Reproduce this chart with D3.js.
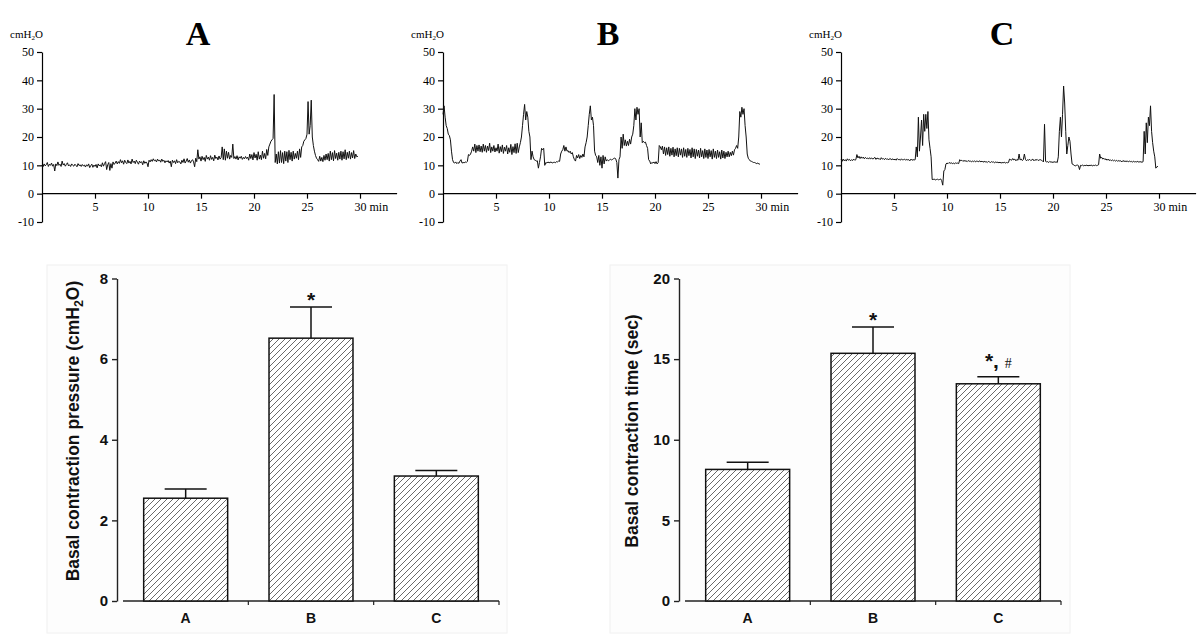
<!DOCTYPE html>
<html>
<head>
<meta charset="utf-8">
<script src="https://cdn.jsdelivr.net/npm/d3@7"></script>
<style>
  html, body { margin: 0; padding: 0; background: #fff; }
  svg { display: block; }
</style>
</head>
<body>
<div id="chart"></div>
<script>
// ---------------- DATA ----------------
// Pressure traces (cmH2O), sampled every 0.1 min from 0 to 29.9 min
const sampleStepMin = 0.1;
const traceA = [
  10,9.5,10.5,9.8,10.2,11,9.6,10.4,10,10.8,
  9.7,10.3,8,10.5,9.9,11.2,10,10.4,9.6,11.5,
  10.1,10.6,9.7,10.3,10.9,9.8,10.2,9.6,10.5,10,
  9.7,10.4,10,9.5,10.6,9.9,10.2,9.6,10.3,9.8,
  10.1,9.4,10.2,9.7,10.5,9.2,9.9,10.4,9.3,10.1,
  9.6,10.3,9.1,10.5,9.8,10.2,9.5,10.9,9.7,10.6,
  11.3,8.5,10.2,11,8.2,10.6,9,11.2,10.3,10.8,
  11.5,10.5,11.3,10.7,12,10.9,11.6,10.4,11.8,11,
  10.6,11.9,10.8,11.4,10.5,12.2,11,11.5,10.6,11.8,
  11.1,10.4,11.5,10.9,11.3,10.2,11.6,10.7,11.2,10.9,
  9.5,11.8,11.2,12,11.4,12.3,11.6,11.9,11.2,12.2,
  11.5,11.9,11.1,12.2,11.4,11.8,10.9,11.6,11.2,11.7,
  10.8,11.5,9.5,11.8,11,11.6,10.6,12,10.9,11.4,
  11.2,10.5,11.8,11,12.3,10.8,11.5,12.4,11.1,11.9,
  10.8,11.6,12,11.2,9.5,12.5,11.3,15.5,12.2,13,
  11.5,13.2,12,12.8,11.4,13.5,12.2,12.9,11.8,13.4,
  12.1,12.8,11.6,13.6,12.4,12.9,11.9,13.3,12.2,12.7,
  16.5,12,15.8,11.8,15,12.5,14.6,12.2,13.5,12.8,
  17.5,12.4,13.1,12.2,13.4,11.9,13,12.5,13.2,12.1,
  12.8,12.3,13.1,12.4,12.9,11.8,14,12.4,13.8,11.9,
  14.5,12.6,13.9,11.8,14.8,12.2,13.6,12,15,12.5,
  14.2,12.3,15.6,13.5,16.5,17.5,18.5,19,19.5,35,
  11,14,10.5,14.8,10.8,15.2,11,14.5,10.6,15,
  11.5,14.8,11,15.3,12,14.6,11.5,15,12.2,14.2,
  12.5,15,12,15.8,12.8,16.5,17,18.5,19,19.5,
  21,32.5,21,24,33,20,17,15,13.5,12.5,
  12,11.4,13.2,11.5,12.8,11.3,13.5,11.8,14,12,
  14.2,11.5,15,12,14.5,11.6,15.2,12.4,14.3,11.8,
  14.6,12.2,15,11.8,14.8,12.3,15.5,12,14.6,12.5,
  15,12.2,14.5,12.6,15.2,12.4,14,13,13.2
];
const traceB = [
  28,31,27,24,23,21,20.5,19,15,12,
  11,10.8,11.2,10.6,11,10.7,11.5,12,10.8,11,
  10.9,11.2,11,11.4,13.8,13.5,14,15,16.5,15,
  17.5,14.5,17,15,17.2,14.8,16.8,14.6,17.5,15,
  17,14.6,16.8,15.2,17.8,14.5,16.5,15,17,14.7,
  16.2,15,17.5,14.3,16.6,14.8,17.2,14.2,16.4,15,
  17,14,16.2,14.6,17.4,13.8,16.6,14.5,17.6,14.2,
  17.8,14.5,16.5,18,20,24,28,31.5,26,29,
  27,22,20,12,15,13,12,11.8,11.5,11.6,
  9,11,13,16,15.5,16,10,11,10.8,11.2,
  10.9,11,11.2,10.8,11,11.1,10.9,11.3,11.2,11.5,
  11.4,14,15,15.5,17,15,16.5,15,15.2,14.5,
  15,14,14.5,13,12,11.5,13.5,12.6,13.8,12.4,
  13.5,12.8,14,13,16.5,18,20,24,28,31,
  26,27,24,15,13.5,13,11,13.5,10,13,
  9,13.5,10.5,13,11.5,12,11.6,11.8,12.2,11.9,
  12.1,12.4,12.6,12.2,11,5.5,12,13,20,16,
  21,17,19,16.8,18.5,17,19.2,17.5,20,21,
  24,30,26,30.5,28,30,20,25,18,18.5,
  18,18.2,17,16,12,11.5,10.5,11,10.8,11.2,
  10.6,11.3,10.5,11,17,16.5,15.5,16.8,14,16.5,
  13.5,16.2,13.8,16.5,13.2,16,13.6,16.4,13,15.8,
  13.4,16.2,13,16,13.6,15.8,12.8,16.2,13.2,15.6,
  12.8,16,13.4,15.6,12.6,16.2,13,15.8,12.4,15.6,
  13.2,15.4,12.6,16,13,15.2,12.4,15.8,12.8,15.4,
  12.4,15.6,13,15.2,12.2,15.8,12.8,15,12.4,15.4,
  12.8,14.8,12.2,15.4,12.6,15,12.4,14.6,13,15,
  13,14.6,13.4,15,13.6,15.5,16,17,16,20,
  29,27,30.5,28,30,24,20,14,12.5,12,
  11.5,11.4,11.2,11,11,10.8,10.6,10.8,10.5,10.4
];
const traceC = [
  12,11.4,12.2,11.6,12,11.5,12.3,11.8,12.1,11.6,
  12,11.7,12.2,11.8,12,13.8,12.6,13.2,12.4,13,
  12.5,12.9,12.3,12.8,12.4,12.6,12.2,12.7,12.3,12.6,
  12.2,12.5,12.8,12.1,12.6,12.3,12.4,12,12.7,12.2,
  12.4,12,12.5,12.1,12.3,11.9,12.4,12.2,12,12.3,
  11.9,12.2,11.8,12.4,12,12.1,11.8,12.3,11.9,12,
  12.2,11.8,12.1,11.9,12,11.6,12.2,11.8,12,11.9,
  12,16.5,13,27,15,20,26,17,28,22,
  28,23,29,19,16,13,5,5,5.2,4.8,
  5,5.1,4.9,5,5.2,4.6,3,8,8.5,10.5,
  10.8,10.6,11,10.7,10.9,10.6,10.8,10.5,10.9,10.7,
  10.8,10.6,12,11.6,11.8,11.4,11.7,11.5,11.6,11.3,
  11.7,11.4,11.6,11.2,11.5,11.3,11.6,11.2,11.5,11.4,
  11.3,11.6,11.2,11.5,11.1,11.4,11.2,11.3,11,11.4,
  11.2,11,11.3,11.1,11.2,10.9,11.2,11,11.1,10.9,
  11.1,10.8,11,10.9,11.1,10.8,11,10.9,11,12.2,
  12,11.8,12.4,11.9,12.2,11.6,12.1,11.8,14,11.9,
  12.2,11.7,12,14,12.1,11.6,12,11.8,12.1,11.7,
  11.9,12.2,11.6,12,11.8,12.1,11.7,11.9,12,11.8,
  11.6,11.2,24.5,11.4,11.2,11.3,11,11.4,11.1,11.2,
  11,11.3,11.1,11.2,11,13,22,27,20,28,
  38,32,22,14,17,20,18.5,14,10.5,10.3,
  10,9.8,10,10.1,9.9,8.5,10,9.9,10.1,9.8,
  10,9.9,10.1,9.8,10,9.9,10.1,9.8,10,9.9,
  10.1,9.9,10,10.2,14,12.5,12.8,12.2,12.5,12,
  12.3,11.8,12.2,11.7,12,11.6,11.9,11.6,11.8,11.5,
  11.8,11.4,11.7,11.5,11.6,11.2,11.7,11.4,11.5,11.3,
  11.6,11.2,11.5,11.3,11.4,11.1,11.5,11.2,11.3,11.2,
  11.4,11.1,11.3,11.2,11.1,11.3,22,14,25,18,
  27,24,31,22,18,15,13,9,9.5,9.6
];
const traceTitles = ["A", "B", "C"];
const traceYTicks = [-10, 0, 10, 20, 30, 40, 50];
const traceXTicks = [5, 10, 15, 20, 25, 30];
const traceUnit = "min";

// Bar charts
const categories = ["A", "B", "C"];
const pressureMean = [2.55, 6.52, 3.10];
const pressureSE   = [0.23, 0.77, 0.14];
const pressureMarks = ["", "*", ""];
const pressureTicks = [0, 2, 4, 6, 8];

const timeMean = [8.16, 15.36, 13.47];
const timeSE   = [0.44, 1.64, 0.43];
const timeMarks = ["", "*", "*, #"];
const timeTicks = [0, 5, 10, 15, 20];

// ---------------- DRAW ----------------
const W = 1200, H = 634;
const svg = d3.select("#chart").append("svg")
  .attr("width", W).attr("height", H)
  .attr("viewBox", `0 0 ${W} ${H}`);

const defs = svg.append("defs");
const pat = defs.append("pattern")
  .attr("id", "hatch").attr("patternUnits", "userSpaceOnUse")
  .attr("width", 6).attr("height", 6);
pat.append("rect").attr("width", 6).attr("height", 6).attr("fill", "#fff");
pat.append("path").attr("d", "M-1,1 L1,-1 M0,6 L6,0 M5,7 L7,5")
  .attr("stroke", "#444").attr("stroke-width", 0.8);

const serif = "'Liberation Serif', 'Times New Roman', serif";
const sans = "'Liberation Sans', Arial, Helvetica, sans-serif";

// ---- Top traces ----
const traces = [traceA, traceB, traceC];
const traceAxisX = [42, 443, 841];
const titleDx = [156, 165, 161];

traces.forEach((vals, k) => {
  const x0 = traceAxisX[k];
  const x = d3.scaleLinear().domain([0, 30]).range([x0, x0 + 318]);
  const y = d3.scaleLinear().domain([-10, 50]).range([222, 52]);
  const g = svg.append("g");

  // y axis
  const ya = g.append("g").attr("transform", `translate(${x0},0)`)
    .call(d3.axisLeft(y).tickValues(traceYTicks).tickFormat(d => String(d))
      .tickSize(5).tickSizeOuter(0).tickPadding(3));
  ya.selectAll("path,line").attr("stroke", "#000").attr("stroke-width", 1.2);
  ya.selectAll("text").attr("font-family", serif).attr("font-size", 12).attr("fill", "#000");

  // x axis at y = 0
  const xa = g.append("g").attr("transform", `translate(0,${y(0)})`)
    .call(d3.axisBottom(x).tickValues(traceXTicks).tickFormat(d => String(d))
      .tickSize(5).tickSizeOuter(0).tickPadding(4));
  xa.select(".domain").remove();
  xa.selectAll("line").attr("stroke", "#000").attr("stroke-width", 1.2);
  xa.selectAll("text").attr("font-family", serif).attr("font-size", 12).attr("fill", "#000");
  xa.selectAll(".tick").filter(d => d === 30).select("text")
    .attr("text-anchor", "start").attr("dx", -6).text(d => d + " " + traceUnit);
  g.append("line")
    .attr("x1", x(0)).attr("x2", x(33.5)).attr("y1", y(0)).attr("y2", y(0))
    .attr("stroke", "#000").attr("stroke-width", 1.2);

  // trace
  const line = d3.line().x((d, i) => x(i * sampleStepMin)).y(d => y(d));
  g.append("path").datum(vals).attr("d", line)
    .attr("fill", "none").attr("stroke", "#111").attr("stroke-width", 1)
    .attr("stroke-linejoin", "round");

  // unit label
  const u = g.append("text").attr("x", x0 - 32).attr("y", 38)
    .attr("font-family", serif).attr("font-size", 11).attr("fill", "#000");
  u.append("tspan").text("cmH");
  u.append("tspan").attr("font-size", 7).attr("dy", 2).text("2");
  u.append("tspan").attr("dy", -2).text("O");

  // title
  g.append("text").attr("x", x0 + titleDx[k]).attr("y", 45)
    .attr("text-anchor", "middle").attr("font-family", serif)
    .attr("font-weight", "bold").attr("font-size", 34).attr("fill", "#000")
    .text(traceTitles[k]);
});

// ---- Bar charts ----
function barChart(opt) {
  const g = svg.append("g");
  g.append("rect").attr("x", opt.bg[0]).attr("y", 265)
    .attr("width", opt.bg[1] - opt.bg[0]).attr("height", 368)
    .attr("fill", "#fdfdfd").attr("stroke", "#f0f0f0");

  const y = d3.scaleLinear().domain(opt.domain).range([601, 278.5]);
  const x = d3.scaleBand().domain(categories)
    .range([opt.axisX + 6, opt.axisX + 382]).paddingInner(0.33).paddingOuter(0.165);

  // y axis
  const ya = g.append("g").attr("transform", `translate(${opt.axisX},0)`)
    .call(d3.axisLeft(y).tickValues(opt.ticks).tickSize(5).tickSizeOuter(0).tickPadding(4));
  ya.selectAll("path,line").attr("stroke", "#222").attr("stroke-width", 1.4);
  ya.selectAll("text").attr("font-family", sans).attr("font-weight", "bold")
    .attr("font-size", 15).attr("fill", "#111");

  // x axis
  const [r0, r1] = x.range();
  g.append("line").attr("x1", r0).attr("x2", r1).attr("y1", y(0)).attr("y2", y(0))
    .attr("stroke", "#222").attr("stroke-width", 1.4);
  const halfGap = (x.step() - x.bandwidth()) / 2;
  g.selectAll(".xt").data(categories).join("line")
    .attr("x1", d => x(d) + x.bandwidth() + halfGap)
    .attr("x2", d => x(d) + x.bandwidth() + halfGap)
    .attr("y1", y(0)).attr("y2", y(0) + 4)
    .attr("stroke", "#222").attr("stroke-width", 1.2);
  g.selectAll(".xl").data(categories).join("text")
    .attr("x", d => x(d) + x.bandwidth() / 2).attr("y", 623)
    .attr("text-anchor", "middle").attr("font-family", sans)
    .attr("font-weight", "bold").attr("font-size", 14).attr("fill", "#111")
    .text(d => d);

  // bars
  g.selectAll(".bar").data(categories).join("rect")
    .attr("x", d => x(d)).attr("width", x.bandwidth())
    .attr("y", (d, i) => y(opt.mean[i]))
    .attr("height", (d, i) => y(0) - y(opt.mean[i]))
    .attr("fill", "url(#hatch)").attr("stroke", "#111").attr("stroke-width", 1.5);

  // error bars
  categories.forEach((c, i) => {
    const cx = x(c) + x.bandwidth() / 2;
    const top = y(opt.mean[i] + opt.se[i]);
    g.append("line").attr("x1", cx).attr("x2", cx)
      .attr("y1", y(opt.mean[i])).attr("y2", top)
      .attr("stroke", "#111").attr("stroke-width", 1.5);
    g.append("line").attr("x1", cx - 21).attr("x2", cx + 21)
      .attr("y1", top).attr("y2", top)
      .attr("stroke", "#111").attr("stroke-width", 1.5);
    const m = opt.marks[i];
    if (m) {
      const t = g.append("text").attr("x", cx).attr("y", top - (m.includes("#") ? 9 : 0))
        .attr("text-anchor", "middle").attr("font-family", sans)
        .attr("font-weight", "bold").attr("fill", "#111");
      m.split(/(#)/).forEach(part => {
        if (!part) return;
        t.append("tspan").attr("font-size", part === "#" ? 14 : 21)
          .attr("font-family", part === "#" ? serif : sans)
          .attr("font-weight", part === "#" ? "normal" : "bold").text(part);
      });
    }
  });

  // y title
  const yt = g.append("text")
    .attr("transform", `translate(${opt.titleX},${431}) rotate(-90)`)
    .attr("text-anchor", "middle").attr("font-family", sans)
    .attr("font-weight", "bold").attr("font-size", 17.5).attr("fill", "#111");
  opt.title.forEach(p => {
    const ts = yt.append("tspan").text(p.t);
    if (p.sub) ts.attr("font-size", 12.5).attr("dy", 4);
    if (p.after) ts.attr("dy", -4);
  });
}

barChart({
  bg: [47, 507], axisX: 117, domain: [0, 8], ticks: pressureTicks,
  mean: pressureMean, se: pressureSE, marks: pressureMarks, titleX: 79,
  title: [{t: "Basal contraction pressure (cmH"}, {t: "2", sub: true}, {t: "O)", after: true}]
});
barChart({
  bg: [610, 1070], axisX: 679, domain: [0, 20], ticks: timeTicks,
  mean: timeMean, se: timeSE, marks: timeMarks, titleX: 638,
  title: [{t: "Basal contraction time (sec)"}]
});
</script>
</body>
</html>
